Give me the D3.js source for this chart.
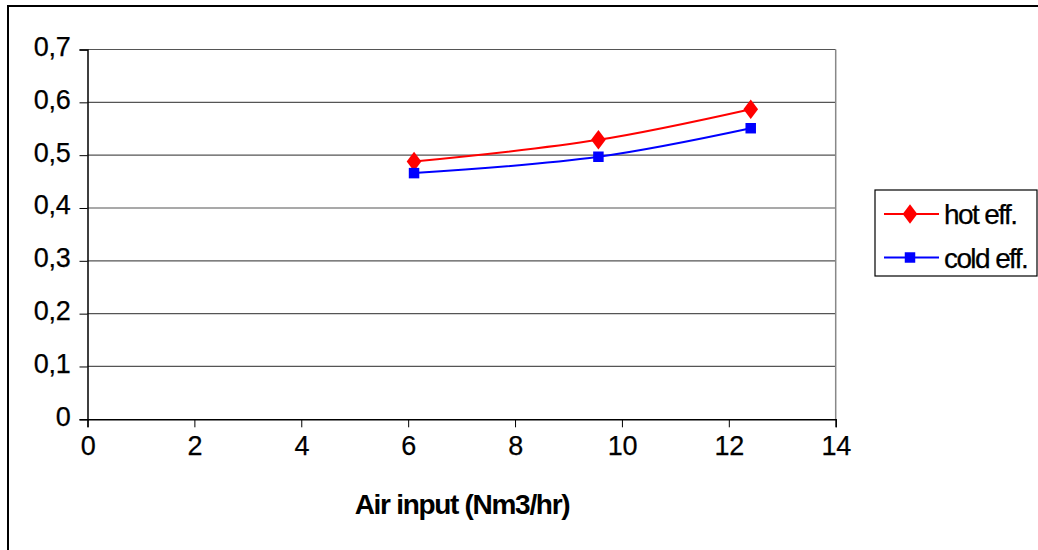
<!DOCTYPE html>
<html><head><meta charset="utf-8">
<script src="https://cdn.jsdelivr.net/npm/d3@7"></script>
<style>
html,body{margin:0;padding:0;background:#fff;}
svg{display:block;font-family:"Liberation Sans",Arial,sans-serif;}
</style></head>
<body>
<svg id="chart" width="1038" height="550"></svg>
<script>
const airInput = [6.11, 9.56, 12.41];
const hotEff = [0.488, 0.529, 0.587];
const coldEff = [0.466, 0.497, 0.551];
const seriesNames = ["hot eff.", "cold eff."];
const seriesColors = ["#ff0000", "#0000ff"];
const xTicks = [0, 2, 4, 6, 8, 10, 12, 14];
const yTicks = [0, 0.1, 0.2, 0.3, 0.4, 0.5, 0.6, 0.7];
const xTitle = "Air input (Nm3/hr)";

const svg = d3.select("#chart");
const L = 87.5, R = 835.7, T = 49.5, B = 419.3;
const x = d3.scaleLinear().domain([0, 14]).range([L, R]);
const y = d3.scaleLinear().domain([0, 0.7]).range([B, T]);

// outer border
svg.append("rect").attr("x", 8).attr("y", 6).attr("width", 1040).attr("height", 560)
  .attr("fill", "none").attr("stroke", "#000").attr("stroke-width", 2);

// gridlines
svg.append("g").selectAll("line").data(yTicks.filter(d => d > 0)).join("line")
  .attr("x1", L).attr("x2", R).attr("y1", d => y(d)).attr("y2", d => y(d))
  .attr("stroke", "#555").attr("stroke-width", 1.2);
// right border of plot area
svg.append("line").attr("x1", R).attr("x2", R).attr("y1", T).attr("y2", B)
  .attr("stroke", "#888").attr("stroke-width", 1.5);

const fmt = d => d3.format(".1f")(d).replace(".", ",");
const yAxis = svg.append("g").attr("transform", `translate(${L},0)`)
  .call(d3.axisLeft(y).tickValues(yTicks).tickSize(8).tickPadding(9).tickFormat(d => d === 0 ? "0" : fmt(d)));
const xAxis = svg.append("g").attr("transform", `translate(0,${B})`)
  .call(d3.axisBottom(x).tickValues(xTicks).tickSize(8).tickPadding(9).tickFormat(d3.format("d")));
[yAxis, xAxis].forEach(a => {
  a.attr("font-size", null).attr("font-family", null);
  a.select(".domain").attr("stroke", "#000").attr("stroke-width", 1.5);
  a.selectAll(".tick line").attr("stroke", "#000");
  a.selectAll("text").style("font-size", "27px").attr("fill", "#000")
    .attr("letter-spacing", -0.3)
    .attr("stroke", "#000").attr("stroke-width", 0.25)
    .style("font-family", '"Liberation Sans",Arial,sans-serif');
});
yAxis.selectAll("text").attr("dy", "0.22em");

svg.append("text").attr("x", 462).attr("y", 514).attr("text-anchor", "middle")
  .style("font-size", "28px").attr("font-weight", "bold").attr("letter-spacing", -1.3)
  .text(xTitle);

const series = [hotEff, coldEff];
const line = d3.line().x(d => x(d[0])).y(d => y(d[1])).curve(d3.curveCatmullRom.alpha(0.5));
series.forEach((vals, i) => {
  const pts = airInput.map((a, j) => [a, vals[j]]);
  svg.append("path").datum(pts).attr("d", line).attr("fill", "none")
    .attr("stroke", seriesColors[i]).attr("stroke-width", 2);
  const sym = i === 0 ? d3.symbolDiamond : d3.symbolSquare;
  svg.append("g").selectAll("path").data(pts).join("path")
    .attr("transform", d => `translate(${x(d[0])},${y(d[1])})` + (i === 0 ? " scale(1.3,1)" : ""))
    .attr("d", d3.symbol(sym, 110)).attr("fill", seriesColors[i]);
});

// legend
const lg = svg.append("g");
lg.append("rect").attr("x", 875).attr("y", 190).attr("width", 162).attr("height", 86)
  .attr("fill", "#fff").attr("stroke", "#000").attr("stroke-width", 1.2);
seriesNames.forEach((n, i) => {
  const ly = 214 + i * 43.5;
  lg.append("line").attr("x1", 884).attr("x2", 939).attr("y1", ly).attr("y2", ly)
    .attr("stroke", seriesColors[i]).attr("stroke-width", 2);
  lg.append("path").attr("transform", `translate(910,${ly})` + (i === 0 ? " scale(1.3,1)" : ""))
    .attr("d", d3.symbol(i === 0 ? d3.symbolDiamond : d3.symbolSquare, 110))
    .attr("fill", seriesColors[i]);
  lg.append("text").attr("x", 944).attr("y", ly + 10).style("font-size", "28px")
    .attr("letter-spacing", -1.6).attr("stroke", "#000").attr("stroke-width", 0.25).text(n);
});
</script>
</body></html>
